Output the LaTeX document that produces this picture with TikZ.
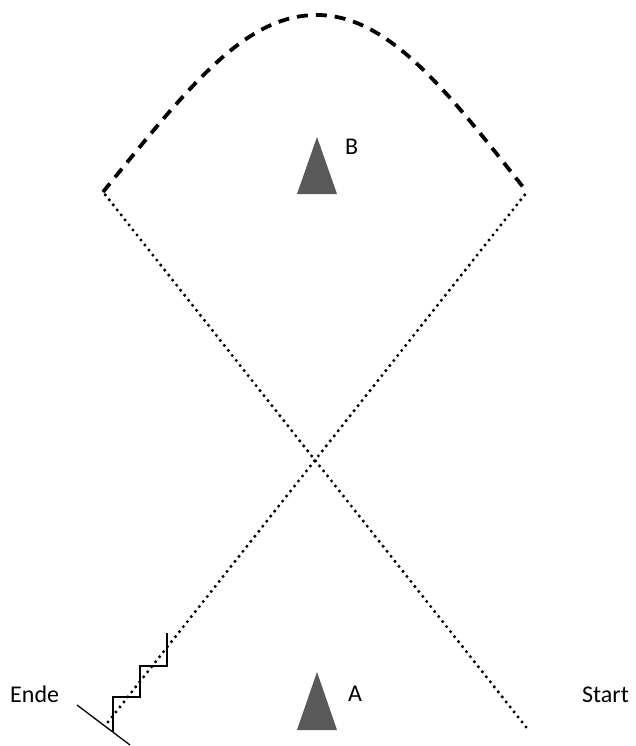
\documentclass[tikz,border=0pt]{standalone}
\usepackage{fontspec}
\setmainfont{Carlito}
\usetikzlibrary{positioning}
\definecolor{markgray}{HTML}{595959}

\begin{document}
\begin{tikzpicture}[
  x=1pt, y=-1pt,
  pathdots/.style={line width=3.4pt, line cap=round, dash pattern=on 0pt off 6.4pt},
  pathdash/.style={line width=3.8pt, dash pattern=on 11pt off 8pt},
  stairline/.style={line width=1.3pt},
  marker/.style={fill=markgray},
  labeltext/.style={anchor=base west, inner sep=0pt, font=\fontsize{24}{28}\selectfont}
]
\useasboundingbox (0,0) rectangle (636,746);

% corner points of the route
\coordinate (start) at (526,727);
\coordinate (ende) at (108,722);
\coordinate (leftturn) at (103,192);
\coordinate (rightturn) at (527,192);
\coordinate (top) at (317,15);

% markers A and B
\fill[marker] (317,137) -- (337,194) -- (297,194) -- cycle;
\fill[marker] (317,672) -- (337,730) -- (297,730) -- cycle;
\node[labeltext] (labB) at (345,155) {B};
\node[labeltext] (labA) at (348,701) {A};
\node[labeltext] (labende) at (10,702) {Ende};
\node[labeltext] (labstart) at (582,702) {Start};

% dotted crossing legs
\draw[pathdots] (start) -- (leftturn);
\draw[pathdots] (ende) -- (rightturn);

% dashed arc over the top
\draw[pathdash] (leftturn) .. controls (190,85) and (245,15) .. (top)
  .. controls (390,15) and (450,95) .. (rightturn);

% stairs and end line
\draw[stairline] (113,732) -- (113,697) -- (140,697) -- (140,666) -- (167,666) -- (167,633);
\draw[stairline] (77,705) -- (130,745);
\end{tikzpicture}
\end{document}
